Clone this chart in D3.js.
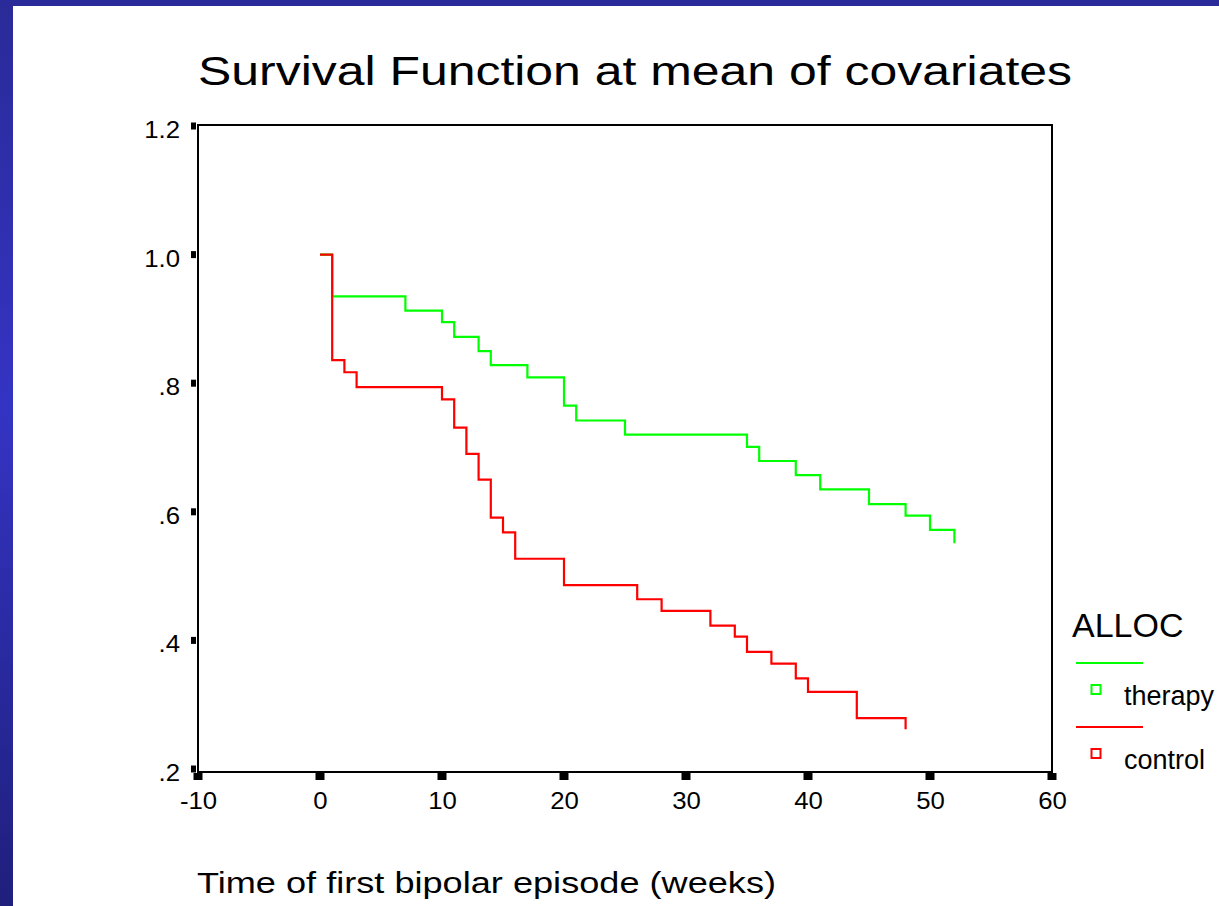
<!DOCTYPE html>
<html lang="en">
<head>
<meta charset="UTF-8">
<title>survival function</title>
<script src="https://d3js.org/d3.v7.min.js"></script>
<style>
    body{margin:0;background:#fff;overflow:hidden;}
    text{font-family:"Liberation Sans", Arial, sans-serif; fill:#000;}
</style>
</head>
<body>
<svg id="fig" width="1219" height="906"></svg>
<script>
    // survival estimates, ALLOC = therapy
    let therapy_time = [0,1,7,10,11,13,14,17,20,21,25,35,36,39,41,45,48,50,52]
    let therapy_surv = [1.0,.935,.913,.895,.872,.850,.828,.809,.765,.742,.720,.701,.679,.657,.635,.612,.594,.572,.551]
    // ALLOC = control
    let control_time = [0,1,2,3,10,11,12,13,14,15,16,20,26,28,32,34,35,37,39,40,44,48]
    let control_surv = [1.0,.836,.817,.794,.775,.731,.690,.650,.591,.568,.527,.486,.464,.446,.423,.406,.382,.364,.341,.320,.279,.262]

    let groups = ["therapy","control"]
    let group_colors = ["#00ff00","#ff0000"]
    let x_ticks = [-10,0,10,20,30,40,50,60]
    let y_ticks = [0.2,0.4,0.6,0.8,1.0,1.2]
    let y_tick_labels = [".2",".4",".6",".8","1.0","1.2"]

    let svg = d3.select("#fig")

    // slide background: blue band on the left and top
    let defs = svg.append("defs")
    let grad = defs.append("linearGradient").attr("id","band").attr("x1",0).attr("y1",0).attr("x2",0).attr("y2",1)
    grad.append("stop").attr("offset","0%").attr("stop-color","#2a2a98")
    grad.append("stop").attr("offset","45%").attr("stop-color","#3434c4")
    grad.append("stop").attr("offset","100%").attr("stop-color","#1f1f7c")
    svg.append("rect").attr("x",0).attr("y",0).attr("width",13).attr("height",906).attr("fill","url(#band)")
    svg.append("rect").attr("x",0).attr("y",0).attr("width",1219).attr("height",6).attr("fill","#2a2a9a")

    let x = d3.scaleLinear().domain([-10,60]).range([198,1052])
    let y = d3.scaleLinear().domain([0.2,1.2]).range([769,126])
    let axis_y = y(0.2) + 3

    // stretch text horizontally like the original slide
    function stretch(sel, k){
        sel.each(function(){
            let w = this.getComputedTextLength()
            d3.select(this).attr("textLength", w*k).attr("lengthAdjust","spacingAndGlyphs")
        })
    }

    // title
    svg.append("text")
        .attr("x",198).attr("y",85)
        .style("font-size","40px")
        .attr("textLength",874).attr("lengthAdjust","spacingAndGlyphs")
        .text("Survival Function at mean of covariates")

    // frame
    svg.append("rect")
        .attr("x",x(-10)).attr("y",y(1.2)-1)
        .attr("width",x(60)-x(-10)).attr("height",axis_y-y(1.2)+1)
        .attr("fill","none").attr("stroke","#000").attr("stroke-width",2)

    // y axis labels
    let gy = svg.append("g").attr("transform","translate("+x(-10)+",0)")
        .call(d3.axisLeft(y).tickValues(y_ticks).tickSize(0).tickPadding(18)
            .tickFormat((d,i)=>y_tick_labels[i]))
    gy.select(".domain").remove()
    gy.selectAll("text").style("font-size","23px").attr("dy","0.5em").attr("fill","#000")
    stretch(gy.selectAll("text"), 1.12)

    // x axis labels
    let gx = svg.append("g").attr("transform","translate(0,"+axis_y+")")
        .call(d3.axisBottom(x).tickValues(x_ticks).tickSize(0).tickPadding(21)
            .tickFormat(d=>String(d)))
    gx.select(".domain").remove()
    gx.selectAll("text").style("font-size","23px").attr("fill","#000")
    stretch(gx.selectAll("text"), 1.12)

    // square tick marks
    svg.append("g").selectAll("rect").data(y_ticks).join("rect")
        .attr("x",x(-10)-7).attr("y",d=>y(d)-3.5).attr("width",5).attr("height",7).attr("fill","#000")
    svg.append("g").selectAll("rect").data(x_ticks).join("rect")
        .attr("x",d=>x(d)-4.5).attr("y",axis_y+1).attr("width",9).attr("height",7).attr("fill","#000")

    // survival step curves
    let step = d3.line().x(d=>x(d[0])).y(d=>y(d[1])).curve(d3.curveStepAfter)
    let series = [
        d3.zip(therapy_time, therapy_surv),
        d3.zip(control_time, control_surv)
    ]
    svg.append("g").selectAll("path").data(series).join("path")
        .attr("d",step)
        .attr("fill","none")
        .attr("stroke",(d,i)=>group_colors[i])
        .attr("stroke-width",2.2)

    // x axis title
    svg.append("text")
        .attr("x",197).attr("y",893)
        .style("font-size","30px")
        .attr("textLength",579).attr("lengthAdjust","spacingAndGlyphs")
        .text("Time of first bipolar episode (weeks)")

    // legend
    let lg = svg.append("g")
    lg.append("text").attr("x",1072).attr("y",637).style("font-size","34px").text("ALLOC")
    let items = lg.selectAll("g.item").data(groups).join("g")
        .attr("class","item")
        .attr("transform",(d,i)=>"translate(0,"+(i*64)+")")
    items.append("line")
        .attr("x1",1076).attr("x2",1143).attr("y1",663).attr("y2",663)
        .attr("stroke",(d,i)=>group_colors[i]).attr("stroke-width",2)
    items.append("rect")
        .attr("x",1091.5).attr("y",685).attr("width",9).attr("height",9)
        .attr("fill","none").attr("stroke",(d,i)=>group_colors[i]).attr("stroke-width",2)
    items.append("text")
        .attr("x",1124).attr("y",705)
        .style("font-size","27px")
        .text(d=>d)
</script>
</body>
</html>
